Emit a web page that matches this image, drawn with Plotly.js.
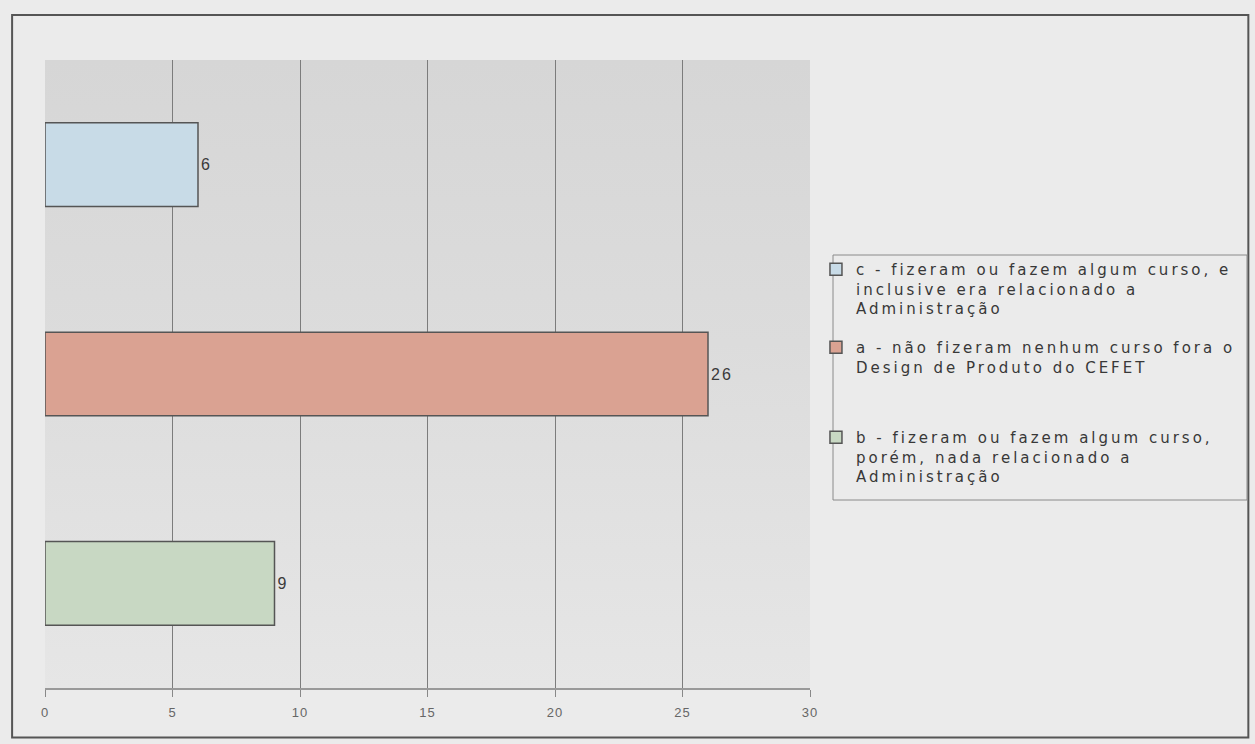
<!DOCTYPE html>
<html>
<head>
<meta charset="utf-8">
<script src="https://cdn.plot.ly/plotly-3.0.1.min.js"></script>
<style>
html,body{margin:0;padding:0;background:#ebebeb;}
#wrap{position:relative;width:1255px;height:744px;}
#bg{position:absolute;left:45px;top:60px;width:765px;height:628px;
    background:linear-gradient(to bottom,#d6d6d6 0%,#dcdcdc 45%,#e6e6e6 100%);}
#chart{position:absolute;left:0;top:0;width:1255px;height:744px;}
</style>
</head>
<body>
<div id="wrap"><div id="bg"></div><div id="chart"></div></div>
<script>
// Data
const categories = ['c', 'a', 'b'];
const legendLines = [
  ['c - fizeram ou fazem algum curso, e', 'inclusive era relacionado a', 'Administração'],
  ['a - não fizeram nenhum curso fora o', 'Design de Produto do CEFET'],
  ['b - fizeram ou fazem algum curso,', 'porém, nada relacionado a', 'Administração']
];
const values = [6, 26, 9];
const colors = ['#c8dbe7', '#daa292', '#c8d8c3'];
const xTicks = [0, 5, 10, 15, 20, 25, 30];
const legendIds = ['legend', 'legend2', 'legend3'];
const legendTops = [0.6927, 0.5685, 0.4252];

const spaced = (s, ls) => `<span style="letter-spacing:${ls}px">${s}</span>`;

const traces = categories.map((c, i) => ({
  type: 'bar',
  orientation: 'h',
  y: [c],
  x: [values[i]],
  name: legendLines[i].map(l => spaced(l, 3)).join('<br>'),
  legend: legendIds[i],
  width: 0.4,
  marker: {color: colors[i], line: {color: '#555555', width: 1.5}},
  text: [spaced(String(values[i]), 2)],
  textposition: 'outside',
  textfont: {family: 'Liberation Sans, Arial, sans-serif', size: 16, color: '#3a3a3a'},
  cliponaxis: false,
  hoverinfo: 'x'
}));

const legendBase = {
  x: 1.0078, xanchor: 'left', yanchor: 'top',
  bgcolor: 'rgba(0,0,0,0)', borderwidth: 0,
  font: {family: 'DejaVu Sans, Verdana, sans-serif', size: 15, color: '#383838'},
  valign: 'top', itemwidth: 30
};

const layout = {
  width: 1255, height: 744,
  paper_bgcolor: 'rgba(0,0,0,0)',
  plot_bgcolor: 'rgba(0,0,0,0)',
  margin: {l: 45, r: 445, t: 60, b: 56},
  showlegend: true,
  font: {family: 'Liberation Sans, Arial, sans-serif', color: '#333'},
  xaxis: {
    range: [0, 30],
    tickvals: xTicks,
    ticktext: xTicks.map(t => spaced(String(t), 1)),
    showgrid: true, gridcolor: '#7c7c7c', gridwidth: 1,
    zeroline: false,
    showline: true, linecolor: '#999999', linewidth: 1.5,
    ticks: 'outside', ticklen: 7, tickcolor: '#888888',
    ticklabelstandoff: 5,
    tickfont: {size: 13, color: '#666666'},
    fixedrange: true
  },
  yaxis: {
    type: 'category',
    categoryorder: 'array',
    categoryarray: ['b', 'a', 'c'],
    showticklabels: false,
    showgrid: false, zeroline: false, showline: false, ticks: '',
    fixedrange: true
  },
  shapes: [
    {type: 'rect', xref: 'paper', yref: 'paper',
     x0: -0.043, x1: 1.573, y0: -0.079, y1: 1.0717,
     line: {color: '#555555', width: 2}, fillcolor: 'rgba(0,0,0,0)', layer: 'below'},
    {type: 'rect', xref: 'paper', yref: 'paper',
     x0: (833 - 45) / 765, x1: (1247 - 45) / 765,
     y0: (688 - 500) / 628, y1: (688 - 255) / 628,
     line: {color: '#8a8a8a', width: 1}, fillcolor: 'rgba(0,0,0,0)', layer: 'below'}
  ]
};
legendIds.forEach((id, i) => {
  layout[id] = Object.assign({}, legendBase, {y: legendTops[i]});
});

Plotly.newPlot('chart', traces, layout, {displayModeBar: false, staticPlot: true});
</script>
</body>
</html>
